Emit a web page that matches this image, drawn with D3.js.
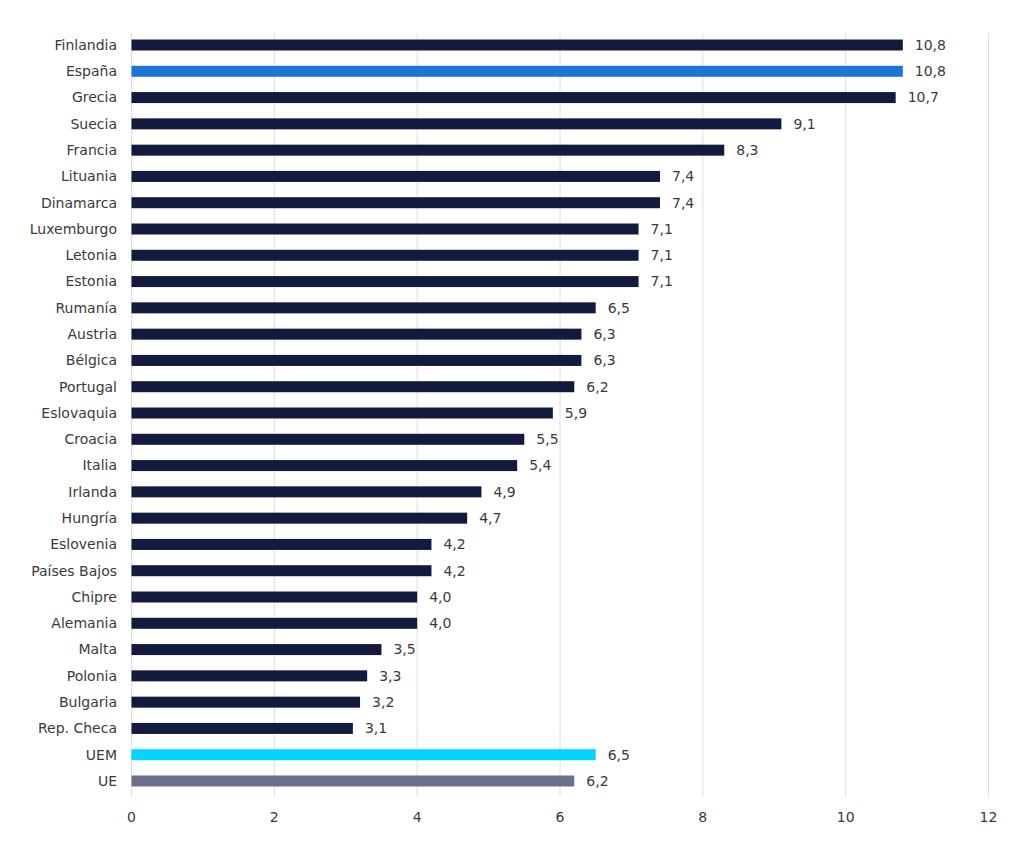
<!DOCTYPE html>
<html>
<head>
<meta charset="utf-8">
<script src="https://cdn.jsdelivr.net/npm/d3@7"></script>
<style>
  body { margin: 0; background: #fff; }
  text { font-family: "DejaVu Sans", Verdana, sans-serif; }
</style>
</head>
<body>
<script>
// Data
let countries = ["Finlandia", "España", "Grecia", "Suecia", "Francia", "Lituania", "Dinamarca",
  "Luxemburgo", "Letonia", "Estonia", "Rumanía", "Austria", "Bélgica", "Portugal", "Eslovaquia",
  "Croacia", "Italia", "Irlanda", "Hungría", "Eslovenia", "Países Bajos", "Chipre", "Alemania",
  "Malta", "Polonia", "Bulgaria", "Rep. Checa", "UEM", "UE"];
let values = [10.8, 10.8, 10.7, 9.1, 8.3, 7.4, 7.4, 7.1, 7.1, 7.1, 6.5, 6.3, 6.3, 6.2, 5.9,
  5.5, 5.4, 4.9, 4.7, 4.2, 4.2, 4.0, 4.0, 3.5, 3.3, 3.2, 3.1, 6.5, 6.2];
let xTicks = [0, 2, 4, 6, 8, 10, 12];

let width = 1024;
let height = 842;

let svg = d3.select("body").append("svg")
  .attr("width", width)
  .attr("height", height);

let x = d3.scaleLinear().domain([0, 12]).range([131.5, 988.5]);
let y = d3.scalePoint().domain(countries).range([45, 781]);

function barColor(name) {
  if (name === "España") return "#1f74d8";
  if (name === "UEM") return "#00d6ff";
  if (name === "UE") return "#6b6f8c";
  return "#121a3e";
}

// Gridlines
svg.append("g").selectAll("line")
  .data(xTicks)
  .join("line")
  .attr("x1", d => x(d))
  .attr("x2", d => x(d))
  .attr("y1", 33)
  .attr("y2", 796)
  .attr("stroke", "#dedede")
  .attr("stroke-width", 1);

// Bars
svg.append("g").selectAll("rect")
  .data(values)
  .join("rect")
  .attr("x", x(0))
  .attr("y", (d, i) => y(countries[i]) - 5.5)
  .attr("width", d => x(d) - x(0))
  .attr("height", 11)
  .attr("fill", (d, i) => barColor(countries[i]));

// Value labels
svg.append("g").selectAll("text")
  .data(values)
  .join("text")
  .attr("x", d => x(d) + 12)
  .attr("y", (d, i) => y(countries[i]))
  .attr("dy", "0.35em")
  .attr("font-size", 14)
  .attr("fill", "#3a3a3a")
  .text(d => d.toFixed(1).replace(".", ","));

// Category labels
svg.append("g").selectAll("text")
  .data(countries)
  .join("text")
  .attr("x", 117)
  .attr("y", d => y(d))
  .attr("dy", "0.35em")
  .attr("text-anchor", "end")
  .attr("font-size", 14)
  .attr("fill", "#3a3a3a")
  .text(d => d);

// X axis tick labels
svg.append("g").selectAll("text")
  .data(xTicks)
  .join("text")
  .attr("x", d => x(d))
  .attr("y", 817)
  .attr("dy", "0.35em")
  .attr("text-anchor", "middle")
  .attr("font-size", 14)
  .attr("fill", "#3a3a3a")
  .text(d => d);
</script>
</body>
</html>
